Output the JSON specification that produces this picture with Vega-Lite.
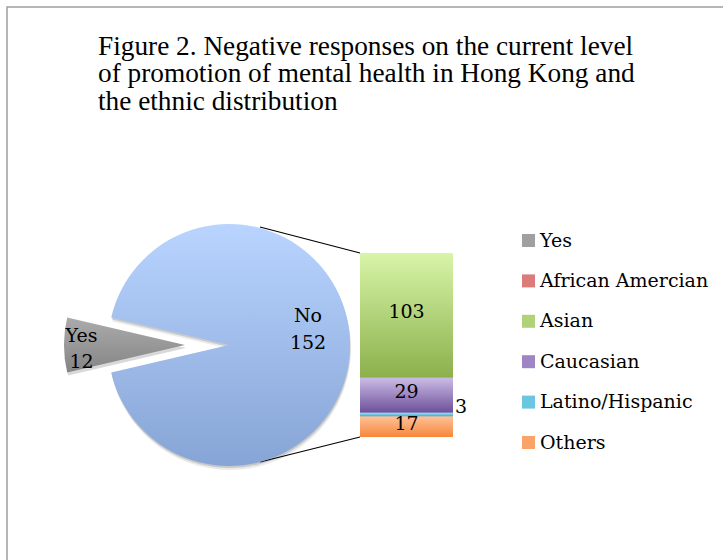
{
  "$schema": "https://vega.github.io/schema/vega-lite/v6.json",
  "width": 723,
  "height": 560,
  "autosize": {"type": "none"},
  "padding": {"left": 7, "top": 7, "right": -7, "bottom": -7},
  "background": "white",
  "config": {"view": {"stroke": "#9f9f9f", "strokeWidth": 1.5}, "font": "DejaVu Serif"},
  "title": {
    "text": ["Figure 2. Negative responses on the current level", "of promotion of mental health in Hong Kong and", "the ethnic distribution"],
    "anchor": "start", "frame": "group", "orient": "top", "offset": -130, "baseline": "alphabetic",
    "dx": 91, "font": "Liberation Serif", "fontSize": 27.3, "fontWeight": "normal", "lineHeight": 27.2, "color": "#000000"
  },
  "datasets": {
    "responses": [{"category": "No", "count": 152}, {"category": "Yes", "count": 12}],
    "ethnicity": [
      {"category": "African Amercian", "count": 0},
      {"category": "Asian", "count": 103},
      {"category": "Caucasian", "count": 29},
      {"category": "Latino/Hispanic", "count": 3},
      {"category": "Others", "count": 17}
    ]
  },
  "layer": [
    {
      "data": {"values": [{}]},
      "mark": {"type": "rule", "color": "#000000", "strokeWidth": 1.2},
      "encoding": {
        "x": {"datum": -1.0753, "type": "quantitative", "scale": {"domain": [0, 1], "range": [353, 446], "padding": 0, "nice": false, "zero": false}, "axis": null},
        "y": {"datum": 173.5, "type": "quantitative", "scale": {"domain": [0, 152], "range": [430, 246], "padding": 0, "nice": false, "zero": false}, "axis": null},
        "x2": {"datum": 0},
        "y2": {"datum": 152}
      }
    },
    {
      "data": {"values": [{}]},
      "mark": {"type": "rule", "color": "#000000", "strokeWidth": 1.2},
      "encoding": {
        "x": {"datum": -1.0753, "type": "quantitative", "scale": {"domain": [0, 1], "range": [353, 446], "padding": 0, "nice": false, "zero": false}, "axis": null},
        "y": {"datum": -20.65, "type": "quantitative", "scale": {"domain": [0, 152], "range": [430, 246], "padding": 0, "nice": false, "zero": false}, "axis": null},
        "x2": {"datum": 0},
        "y2": {"datum": 0}
      }
    },
    {
      "data": {"name": "responses"},
      "mark": {"type": "arc", "outerRadius": 121, "x": {"expr": "scale('x', -1.4086) + 1"}, "y": {"expr": "scale('y', 76) + 4"}, "fill": "#000000"},
      "encoding": {
        "theta": {"field": "count", "type": "quantitative", "stack": true, "scale": {"range": [4.94222, 11.22541]}},
        "order": {"field": "count", "type": "quantitative", "sort": "descending"},
        "detail": {"field": "category", "type": "nominal"},
        "opacity": {"condition": {"test": "datum.category === 'No'", "value": 0.08}, "value": 0}
      }
    },
    {
      "data": {"name": "responses"},
      "mark": {"type": "arc", "outerRadius": 121, "x": {"expr": "scale('x', -1.4086) + 0.5"}, "y": {"expr": "scale('y', 76) + 2"}, "fill": "#000000"},
      "encoding": {
        "theta": {"field": "count", "type": "quantitative", "stack": true, "scale": {"range": [4.94222, 11.22541]}},
        "order": {"field": "count", "type": "quantitative", "sort": "descending"},
        "detail": {"field": "category", "type": "nominal"},
        "opacity": {"condition": {"test": "datum.category === 'No'", "value": 0.14}, "value": 0}
      }
    },
    {
      "data": {"name": "responses"},
      "mark": {"type": "arc", "outerRadius": 121, "x": {"expr": "scale('x', -1.8817) + 1"}, "y": {"expr": "scale('y', 76) + 3"}, "fill": "#000000"},
      "encoding": {
        "theta": {"field": "count", "type": "quantitative", "stack": true, "scale": {"range": [4.94222, 11.22541]}},
        "order": {"field": "count", "type": "quantitative", "sort": "descending"},
        "detail": {"field": "category", "type": "nominal"},
        "opacity": {"condition": {"test": "datum.category === 'Yes'", "value": 0.15}, "value": 0}
      }
    },
    {
      "data": {"name": "responses"},
      "mark": {"type": "arc", "outerRadius": 121, "x": {"expr": "scale('x', -1.4086)"}, "y": {"expr": "scale('y', 76)"},
        "fill": {"gradient": "linear", "x1": 0, "y1": 0, "x2": 0, "y2": 1, "stops": [{"offset": 0, "color": "#b9d4ff"}, {"offset": 1, "color": "#86a4d5"}]}},
      "encoding": {
        "theta": {"field": "count", "type": "quantitative", "stack": true, "scale": {"range": [4.94222, 11.22541]}},
        "order": {"field": "count", "type": "quantitative", "sort": "descending"},
        "detail": {"field": "category", "type": "nominal"},
        "opacity": {"condition": {"test": "datum.category === 'No'", "value": 1}, "value": 0}
      }
    },
    {
      "data": {"name": "responses"},
      "mark": {"type": "arc", "outerRadius": 121, "x": {"expr": "scale('x', -1.8817)"}, "y": {"expr": "scale('y', 76)"},
        "fill": {"gradient": "linear", "x1": 0, "y1": 0, "x2": 0, "y2": 1, "stops": [{"offset": 0, "color": "#ababab"}, {"offset": 1, "color": "#858585"}]}},
      "encoding": {
        "theta": {"field": "count", "type": "quantitative", "stack": true, "scale": {"range": [4.94222, 11.22541]}},
        "order": {"field": "count", "type": "quantitative", "sort": "descending"},
        "detail": {"field": "category", "type": "nominal"},
        "opacity": {"condition": {"test": "datum.category === 'Yes'", "value": 1}, "value": 0}
      }
    },
    {
      "data": {"name": "responses"},
      "mark": {"type": "text", "radius": 79, "x": {"expr": "scale('x', -1.4086)"}, "y": {"expr": "scale('y', 76)"}, "dy": -29, "font": "DejaVu Serif", "fontSize": 19, "baseline": "middle", "align": "center", "color": "#000000"},
      "encoding": {
        "theta": {"field": "count", "type": "quantitative", "stack": true, "scale": {"range": [4.94222, 11.22541]}},
        "order": {"field": "count", "type": "quantitative", "sort": "descending"},
        "detail": {"field": "category", "type": "nominal"},
        "text": {"condition": {"test": "datum.category === 'No'", "field": "category", "type": "nominal"}, "value": ""}
      }
    },
    {
      "data": {"name": "responses"},
      "mark": {"type": "text", "radius": 79, "x": {"expr": "scale('x', -1.4086)"}, "y": {"expr": "scale('y', 76)"}, "dy": -2, "font": "DejaVu Serif", "fontSize": 19, "baseline": "middle", "align": "center", "color": "#000000"},
      "encoding": {
        "theta": {"field": "count", "type": "quantitative", "stack": true, "scale": {"range": [4.94222, 11.22541]}},
        "order": {"field": "count", "type": "quantitative", "sort": "descending"},
        "detail": {"field": "category", "type": "nominal"},
        "text": {"condition": {"test": "datum.category === 'No'", "field": "count", "type": "quantitative"}, "value": ""}
      }
    },
    {
      "data": {"name": "responses"},
      "mark": {"type": "text", "radius": 103.5, "x": {"expr": "scale('x', -1.8817)"}, "y": {"expr": "scale('y', 76)"}, "dy": -9, "font": "DejaVu Serif", "fontSize": 19, "baseline": "middle", "align": "center", "color": "#000000"},
      "encoding": {
        "theta": {"field": "count", "type": "quantitative", "stack": true, "scale": {"range": [4.94222, 11.22541]}},
        "order": {"field": "count", "type": "quantitative", "sort": "descending"},
        "detail": {"field": "category", "type": "nominal"},
        "text": {"condition": {"test": "datum.category === 'Yes'", "field": "category", "type": "nominal"}, "value": ""}
      }
    },
    {
      "data": {"name": "responses"},
      "mark": {"type": "text", "radius": 103.5, "x": {"expr": "scale('x', -1.8817)"}, "y": {"expr": "scale('y', 76)"}, "dy": 17, "font": "DejaVu Serif", "fontSize": 19, "baseline": "middle", "align": "center", "color": "#000000"},
      "encoding": {
        "theta": {"field": "count", "type": "quantitative", "stack": true, "scale": {"range": [4.94222, 11.22541]}},
        "order": {"field": "count", "type": "quantitative", "sort": "descending"},
        "detail": {"field": "category", "type": "nominal"},
        "text": {"condition": {"test": "datum.category === 'Yes'", "field": "count", "type": "quantitative"}, "value": ""}
      }
    },
    {
      "data": {"name": "ethnicity"},
      "mark": {"type": "bar", "orient": "vertical"},
      "encoding": {
        "x": {"datum": 0, "type": "quantitative", "scale": {"domain": [0, 1], "range": [353, 446], "padding": 0, "nice": false, "zero": false}, "axis": null},
        "x2": {"datum": 1},
        "y": {"field": "count", "type": "quantitative", "stack": "zero", "scale": {"domain": [0, 152], "range": [430, 246], "padding": 0, "nice": false, "zero": false}, "axis": null},
        "order": {"field": "category", "type": "nominal", "sort": "descending"},
        "detail": {"field": "category", "type": "nominal"},
        "color": {
          "field": "category", "type": "nominal",
          "scale": {
            "domain": ["Yes", "African Amercian", "Asian", "Caucasian", "Latino/Hispanic", "Others"],
            "range": ["#a0a0a0", "#dc7b7a", "#b2d27a", "#9d86c3", "#6cc6e2", "#fba46a"]
          },
          "legend": {
            "orient": "none", "legendX": 512, "legendY": 224, "title": null, "padding": 0, "rowPadding": 20.4,
            "symbolType": "square", "symbolSize": 169, "symbolStrokeWidth": 0,
            "labelFont": "DejaVu Serif", "labelFontSize": 19, "labelColor": "#000000", "labelOffset": 2, "labelLimit": 400
          }
        }
      }
    },
    {
      "data": {"name": "ethnicity"},
      "mark": {"type": "bar", "orient": "vertical"},
      "encoding": {
        "x": {"datum": 0, "type": "quantitative", "scale": {"domain": [0, 1], "range": [353, 446], "padding": 0, "nice": false, "zero": false}, "axis": null},
        "x2": {"datum": 1},
        "y": {"field": "count", "type": "quantitative", "stack": "zero", "scale": {"domain": [0, 152], "range": [430, 246], "padding": 0, "nice": false, "zero": false}, "axis": null},
        "order": {"field": "category", "type": "nominal", "sort": "descending"},
        "detail": {"field": "category", "type": "nominal"},
        "fill": {
          "condition": [
            {"test": "datum.category === 'African Amercian'", "value": {"gradient": "linear", "x1": 0, "y1": 0, "x2": 0, "y2": 1, "stops": [{"offset": 0, "color": "#f5a6a6"}, {"offset": 1, "color": "#c0504d"}]}},
            {"test": "datum.category === 'Asian'", "value": {"gradient": "linear", "x1": 0, "y1": 0, "x2": 0, "y2": 1, "stops": [{"offset": 0, "color": "#d8f5a8"}, {"offset": 1, "color": "#8bb04b"}]}},
            {"test": "datum.category === 'Caucasian'", "value": {"gradient": "linear", "x1": 0, "y1": 0, "x2": 0, "y2": 1, "stops": [{"offset": 0, "color": "#cbbde6"}, {"offset": 1, "color": "#6d4f9a"}]}},
            {"test": "datum.category === 'Latino/Hispanic'", "value": {"gradient": "linear", "x1": 0, "y1": 0, "x2": 0, "y2": 1, "stops": [{"offset": 0, "color": "#9de3f7"}, {"offset": 1, "color": "#36a9cc"}]}}
          ],
          "value": {"gradient": "linear", "x1": 0, "y1": 0, "x2": 0, "y2": 1, "stops": [{"offset": 0, "color": "#ffc198"}, {"offset": 1, "color": "#f5873a"}]}
        }
      }
    },
    {
      "data": {"name": "ethnicity"},
      "mark": {"type": "text", "font": "DejaVu Serif", "fontSize": 19, "baseline": "middle", "align": "center", "dy": -3, "color": "#000000"},
      "encoding": {
        "x": {"datum": 0.5, "type": "quantitative", "scale": {"domain": [0, 1], "range": [353, 446], "padding": 0, "nice": false, "zero": false}, "axis": null},
        "y": {"field": "count", "type": "quantitative", "stack": "zero", "bandPosition": 0.5, "scale": {"domain": [0, 152], "range": [430, 246], "padding": 0, "nice": false, "zero": false}, "axis": null},
        "order": {"field": "category", "type": "nominal", "sort": "descending"},
        "detail": {"field": "category", "type": "nominal"},
        "text": {"condition": {"test": "datum.count >= 10", "field": "count", "type": "quantitative"}, "value": ""}
      }
    },
    {
      "data": {"name": "ethnicity"},
      "mark": {"type": "text", "font": "DejaVu Serif", "fontSize": 19, "baseline": "middle", "align": "left", "dx": 2, "dy": -8, "color": "#000000"},
      "encoding": {
        "x": {"datum": 1, "type": "quantitative", "scale": {"domain": [0, 1], "range": [353, 446], "padding": 0, "nice": false, "zero": false}, "axis": null},
        "y": {"field": "count", "type": "quantitative", "stack": "zero", "bandPosition": 0.5, "scale": {"domain": [0, 152], "range": [430, 246], "padding": 0, "nice": false, "zero": false}, "axis": null},
        "order": {"field": "category", "type": "nominal", "sort": "descending"},
        "detail": {"field": "category", "type": "nominal"},
        "text": {"condition": {"test": "datum.count > 0 && datum.count < 10", "field": "count", "type": "quantitative"}, "value": ""}
      }
    }
  ]
}
